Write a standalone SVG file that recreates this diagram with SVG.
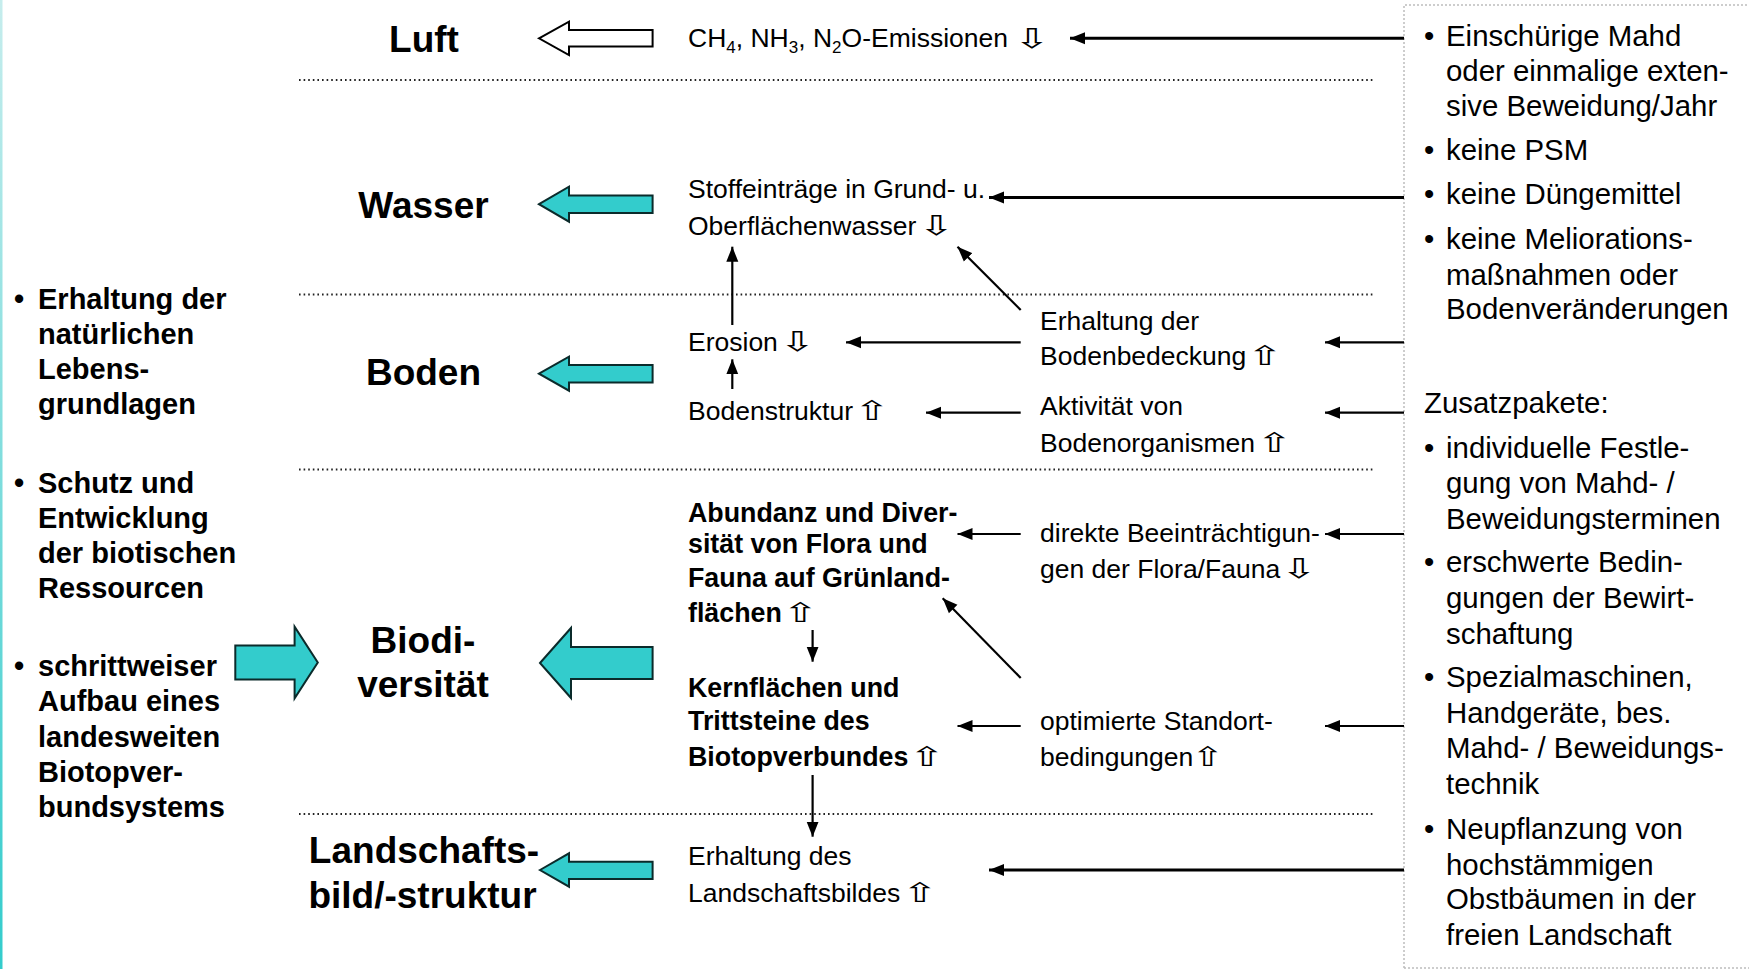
<svg xmlns="http://www.w3.org/2000/svg" width="1749" height="969" viewBox="0 0 1749 969">
  <defs>
    <linearGradient id="edge" x1="0" y1="0" x2="0" y2="1">
      <stop offset="0" stop-color="#c6eded"/>
      <stop offset="1" stop-color="#33cccc"/>
    </linearGradient>
    <marker id="ah" markerUnits="userSpaceOnUse" markerWidth="17" markerHeight="13" refX="15" refY="6.5" orient="auto">
      <path d="M0,0.5 L15,6.5 L0,12.5 z" fill="#000"/>
    </marker>
  </defs>
  <style>
    text { font-family: "Liberation Sans", Arial, "DejaVu Sans", sans-serif; fill: #000; }
    .head { font-size: 37px; font-weight: bold; text-anchor: middle; }
    .goal { font-size: 29px; font-weight: bold; }
    .mid { font-size: 26.5px; }
    .midb { font-size: 26.8px; font-weight: bold; }
    .box { font-size: 29.4px; }
    .sub { font-size: 17px; }
    .sym { font-family: "DejaVu Sans", sans-serif; font-size: 27px; text-anchor: middle; }
    .sep { stroke: #222; stroke-width: 2; stroke-dasharray: 1.6 3; fill: none; }
    .frame { stroke: #bdbdbd; stroke-width: 1.5; stroke-dasharray: 2 2; fill: none; }
    .con { stroke: #000; stroke-width: 2.2; fill: none; marker-end: url(#ah); }
    .conw { stroke: #000; stroke-width: 3; fill: none; marker-end: url(#ah); }
    .blk { fill: #33cccc; stroke: #0b2b2b; stroke-width: 2; stroke-linejoin: miter; }
    .blkw { fill: #ffffff; stroke: #000; stroke-width: 2; }
  </style>

  <!-- left edge bar -->
  <rect x="0" y="0" width="2.5" height="969" fill="url(#edge)"/>

  <!-- frame of the measures panel -->
  <path class="frame" d="M1404,968 V5 H1749 M1404,968 H1749"/>

  <!-- section separators -->
  <g id="separators">
    <line class="sep" x1="299" y1="80" x2="1374" y2="80"/>
    <line class="sep" x1="299" y1="294.5" x2="1374" y2="294.5"/>
    <line class="sep" x1="299" y1="469.6" x2="1374" y2="469.6"/>
    <line class="sep" x1="299" y1="814" x2="1374" y2="814"/>
  </g>

  <!-- protected goods -->
  <g id="luft">
    <text class="head" x="424" y="51.7">Luft</text>
    <polygon class="blkw" points="539,38.3 569,21.7 569,30 652.6,30 652.6,46.6 569,46.6 569,55"/>
  </g>
  <g id="wasser">
    <text class="head" x="423.5" y="218.3">Wasser</text>
    <polygon class="blk" points="539,204.2 569,186.7 569,195.4 652.6,195.4 652.6,213 569,213 569,221.7"/>
  </g>
  <g id="boden">
    <text class="head" x="423.5" y="385">Boden</text>
    <polygon class="blk" points="539,373.7 569,356.7 569,365 652.6,365 652.6,382.4 569,382.4 569,390.7"/>
  </g>
  <g id="biodiversitaet">
    <text class="head" x="423" y="653.3">Biodi-</text>
    <text class="head" x="423" y="697">versität</text>
    <polygon class="blk" points="540,663 571,628 571,647 652.6,647 652.6,679 571,679 571,698"/>
    <polygon class="blk" points="317.8,662.5 294.6,626.7 294.6,645.5 235.3,645.5 235.3,679.5 294.6,679.5 294.6,698.3"/>
  </g>
  <g id="landschaft">
    <text class="head" x="424" y="863.3">Landschafts-</text>
    <text class="head" x="422.5" y="908.3">bild/-struktur</text>
    <polygon class="blk" points="540,870 569,853.3 569,861.7 652.6,861.7 652.6,879 569,879 569,886.7"/>
  </g>

  <!-- goals -->
  <g id="ziele">
    <text class="goal" x="14" y="309.3">•</text>
    <text class="goal" x="38" y="309.3">Erhaltung der</text>
    <text class="goal" x="38" y="344.3">natürlichen</text>
    <text class="goal" x="38" y="379">Lebens-</text>
    <text class="goal" x="38" y="413.5">grundlagen</text>
    <text class="goal" x="14" y="493.3">•</text>
    <text class="goal" x="38" y="493.3">Schutz und</text>
    <text class="goal" x="38" y="528.3">Entwicklung</text>
    <text class="goal" x="38" y="563.3">der biotischen</text>
    <text class="goal" x="38" y="598">Ressourcen</text>
    <text class="goal" x="14" y="675.5">•</text>
    <text class="goal" x="38" y="675.5">schrittweiser</text>
    <text class="goal" x="38" y="711">Aufbau eines</text>
    <text class="goal" x="38" y="746.7">landesweiten</text>
    <text class="goal" x="38" y="781.7">Biotopver-</text>
    <text class="goal" x="38" y="816.5">bundsystems</text>
  </g>

  <!-- effects (trend arrows drawn as widened symbol glyphs) -->
  <g id="emissionen">
    <text class="mid" x="688" y="46.7">CH<tspan class="sub" dy="6">4</tspan><tspan dy="-6">, NH</tspan><tspan class="sub" dy="6">3</tspan><tspan dy="-6">, N</tspan><tspan class="sub" dy="6">2</tspan><tspan dy="-6">O-Emissionen</tspan></text>
    <text class="sym" transform="translate(1032,48) scale(1.6,1)">⇩</text>
  </g>
  <g id="stoffeintraege">
    <text class="mid" x="688" y="198.3">Stoffeinträge in Grund- u.</text>
    <text class="mid" x="688" y="235">Oberflächenwasser</text>
    <text class="sym" transform="translate(936.5,235) scale(1.6,1)">⇩</text>
  </g>
  <g id="erosion">
    <text class="mid" x="688" y="350.7">Erosion</text>
    <text class="sym" transform="translate(797.5,350.7) scale(1.6,1)">⇩</text>
  </g>
  <g id="bodenstruktur">
    <text class="mid" x="688" y="420">Bodenstruktur</text>
    <text class="sym" transform="translate(872,420) scale(1.6,1)">⇧</text>
  </g>
  <g id="bodenbedeckung">
    <text class="mid" x="1040" y="330">Erhaltung der</text>
    <text class="mid" x="1040" y="365">Bodenbedeckung</text>
    <text class="sym" transform="translate(1265,365) scale(1.6,1)">⇧</text>
  </g>
  <g id="bodenorganismen">
    <text class="mid" x="1040" y="415">Aktivität von</text>
    <text class="mid" x="1040" y="451.7">Bodenorganismen</text>
    <text class="sym" transform="translate(1274.5,451.7) scale(1.6,1)">⇧</text>
  </g>
  <g id="abundanz">
    <text class="midb" x="688" y="521.7">Abundanz und Diver-</text>
    <text class="midb" x="688" y="553.3">sität von Flora und</text>
    <text class="midb" x="688" y="586.7">Fauna auf Grünland-</text>
    <text class="midb" x="688" y="621.7">flächen</text>
    <text class="sym" transform="translate(800.5,621.7) scale(1.6,1)">⇧</text>
  </g>
  <g id="beeintraechtigungen">
    <text class="mid" x="1040" y="542.3">direkte Beeinträchtigun-</text>
    <text class="mid" x="1040" y="578.3">gen der Flora/Fauna</text>
    <text class="sym" transform="translate(1299,578.3) scale(1.6,1)">⇩</text>
  </g>
  <g id="kernflaechen">
    <text class="midb" x="688" y="696.7">Kernflächen und</text>
    <text class="midb" x="688" y="730">Trittsteine des</text>
    <text class="midb" x="688" y="766">Biotopverbundes</text>
    <text class="sym" transform="translate(927,766) scale(1.6,1)">⇧</text>
  </g>
  <g id="standort">
    <text class="mid" x="1040" y="730">optimierte Standort-</text>
    <text class="mid" x="1040" y="766">bedingungen</text>
    <text class="sym" transform="translate(1208,766) scale(1.45,1)">⇧</text>
  </g>
  <g id="landschaftsbild">
    <text class="mid" x="688" y="865">Erhaltung des</text>
    <text class="mid" x="688" y="901.7">Landschaftsbildes</text>
    <text class="sym" transform="translate(920,901.7) scale(1.6,1)">⇧</text>
  </g>

  <!-- measures -->
  <g id="massnahmen">
    <text class="box" x="1424" y="46">•</text>
    <text class="box" x="1446" y="46">Einschürige Mahd</text>
    <text class="box" x="1446" y="80.5">oder einmalige exten-</text>
    <text class="box" x="1446" y="116">sive Beweidung/Jahr</text>
    <text class="box" x="1424" y="159.5">•</text>
    <text class="box" x="1446" y="159.5">keine PSM</text>
    <text class="box" x="1424" y="204">•</text>
    <text class="box" x="1446" y="204">keine Düngemittel</text>
    <text class="box" x="1424" y="249">•</text>
    <text class="box" x="1446" y="249">keine Meliorations-</text>
    <text class="box" x="1446" y="284.5">maßnahmen oder</text>
    <text class="box" x="1446" y="319">Bodenveränderungen</text>
  </g>
  <g id="zusatzpakete">
    <text class="box" x="1424" y="413">Zusatzpakete:</text>
    <text class="box" x="1424" y="457.5">•</text>
    <text class="box" x="1446" y="457.5">individuelle Festle-</text>
    <text class="box" x="1446" y="493">gung von Mahd- /</text>
    <text class="box" x="1446" y="529">Beweidungsterminen</text>
    <text class="box" x="1424" y="572">•</text>
    <text class="box" x="1446" y="572">erschwerte Bedin-</text>
    <text class="box" x="1446" y="608">gungen der Bewirt-</text>
    <text class="box" x="1446" y="643.5">schaftung</text>
    <text class="box" x="1424" y="687">•</text>
    <text class="box" x="1446" y="687">Spezialmaschinen,</text>
    <text class="box" x="1446" y="722.7">Handgeräte, bes.</text>
    <text class="box" x="1446" y="758.4">Mahd- / Beweidungs-</text>
    <text class="box" x="1446" y="794">technik</text>
    <text class="box" x="1424" y="839">•</text>
    <text class="box" x="1446" y="839">Neupflanzung von</text>
    <text class="box" x="1446" y="874.5">hochstämmigen</text>
    <text class="box" x="1446" y="909">Obstbäumen in der</text>
    <text class="box" x="1446" y="945">freien Landschaft</text>
  </g>

  <!-- connectors -->
  <g id="connectors">
    <line class="conw" x1="1404" y1="38.3" x2="1070" y2="38.3"/>
    <line class="conw" x1="1404" y1="197.5" x2="989" y2="197.5"/>
    <line class="con" x1="1404" y1="342.3" x2="1325" y2="342.3"/>
    <line class="con" x1="1404" y1="412.7" x2="1325" y2="412.7"/>
    <line class="con" x1="1404" y1="534" x2="1325" y2="534"/>
    <line class="con" x1="1404" y1="726" x2="1325" y2="726"/>
    <line class="conw" x1="1404" y1="870" x2="989" y2="870"/>
    <line class="con" x1="1020.7" y1="342.3" x2="846" y2="342.3"/>
    <line class="con" x1="1020.7" y1="412.7" x2="926" y2="412.7"/>
    <line class="con" x1="732.3" y1="389" x2="732.3" y2="359.3"/>
    <line class="con" x1="732.3" y1="325" x2="732.3" y2="246.7"/>
    <line class="con" x1="1020.7" y1="310" x2="957.5" y2="246.7"/>
    <line class="con" x1="1020.7" y1="534" x2="957.5" y2="534"/>
    <line class="con" x1="1020.7" y1="678" x2="942.7" y2="598.3"/>
    <line class="con" x1="812.6" y1="630" x2="812.6" y2="661.7"/>
    <line class="con" x1="1020.7" y1="726" x2="957.5" y2="726"/>
    <line class="con" x1="812.6" y1="775" x2="812.6" y2="836.7"/>
  </g>
</svg>
